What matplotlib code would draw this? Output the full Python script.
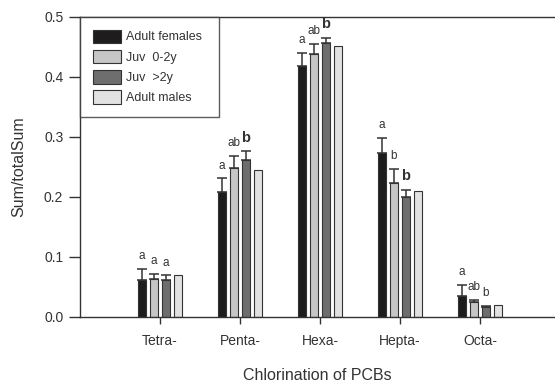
import numpy as np
import matplotlib
matplotlib.use("Agg")
import matplotlib.pyplot as plt

plt.rcParams['font.family'] = ['Liberation Sans', 'DejaVu Sans']

categories = ["Tetra-", "Penta-", "Hexa-", "Hepta-", "Octa-"]
groups = ["Adult females", "Juv  0-2y", "Juv  >2y", "Adult males"]

# mean proportion of each chlorination class, per group
adult_females = [0.061, 0.209, 0.419, 0.274, 0.035]
juv_0_2y = [0.064, 0.249, 0.438, 0.223, 0.0245]
juv_over_2y = [0.062, 0.262, 0.457, 0.200, 0.017]
adult_males = [0.0705, 0.245, 0.451, 0.210, 0.020]

# upper error (SE); adult males drawn without error bars
err_females = [0.019, 0.022, 0.021, 0.025, 0.018]
err_juv_0_2y = [0.008, 0.020, 0.017, 0.024, 0.0045]
err_juv_over_2y = [0.0075, 0.014, 0.008, 0.012, 0.002]

# significance letters
let_females = ["a", "a", "a", "a", "a"]
let_juv_0_2y = ["a", "ab", "ab", "b", "ab"]
let_juv_over_2y = ["a", "b", "b", "b", "b"]
bold_juv_over_2y = [False, True, True, True, False]

colors = ["#1e1c1d", "#c6c6c6", "#6e6e6e", "#e2e2e2"]
edge = "#333333"

fig = plt.figure(figsize=(5.55, 3.83), dpi=100)
ax = fig.add_axes([80 / 555, 1 - 317 / 383, 475 / 555, 300 / 383])

x = np.arange(1, len(categories) + 1)
width = 0.1
step = 0.15
series = [adult_females, juv_0_2y, juv_over_2y, adult_males]
errs = [err_females, err_juv_0_2y, err_juv_over_2y, None]
lets = [let_females, let_juv_0_2y, let_juv_over_2y, None]

for i, (vals, col) in enumerate(zip(series, colors)):
    xs = x + (i - 1.5) * step
    ax.bar(xs, vals, width, color=col, edgecolor=edge, linewidth=0.8,
           label=groups[i], zorder=2)
    if errs[i] is None:
        continue
    ax.errorbar(xs, vals, yerr=[np.zeros(len(vals)), errs[i]], fmt="none",
                ecolor=edge, elinewidth=1.1, capsize=3.6, capthick=1.1, zorder=3)
    for j, (xx, v, e) in enumerate(zip(xs, vals, errs[i])):
        bold = i == 2 and bold_juv_over_2y[j]
        ax.annotate(lets[i][j], (xx, v + e), xytext=(0, 7), textcoords="offset points",
                    ha="center", va="baseline", color="#333333",
                    fontsize=10.5 if bold else 8.5,
                    fontweight="bold" if bold else "normal")

ax.set_xlim(0, 475 / 80)
ax.set_ylim(0, 0.5)
ax.set_xticks(x)
ax.set_xticklabels(categories)
ax.set_yticks(np.arange(0, 0.51, 0.1))
ax.set_yticklabels([f"{t:.1f}" for t in np.arange(0, 0.51, 0.1)])
ax.tick_params(axis="y", length=8, width=1, color=edge, labelsize=10, labelcolor="#333333", pad=4)
ax.tick_params(axis="x", length=5, width=1, color=edge, labelsize=10, labelcolor="#333333", pad=7)
for s in ["left", "bottom", "top"]:
    ax.spines[s].set_color(edge)
    ax.spines[s].set_linewidth(1)
ax.spines["right"].set_visible(False)

ax.set_xlabel("Chlorination of PCBs", fontsize=11.5, color="#333333", labelpad=15)
ax.set_ylabel("Sum/totalSum", fontsize=11.5, color="#333333", labelpad=13)

leg = ax.legend(loc="upper left", bbox_to_anchor=(0, 0.5, 139 / 475, 0.5), mode="expand",
                fontsize=9, frameon=True, fancybox=False, edgecolor=edge,
                borderaxespad=0, borderpad=1.0, handlelength=2.25, handleheight=1.3,
                handletextpad=0.45, labelspacing=0.5)
leg.get_frame().set_linewidth(1)
for t in leg.get_texts():
    t.set_color("#333333")

fig.savefig("out.png", dpi=100)
